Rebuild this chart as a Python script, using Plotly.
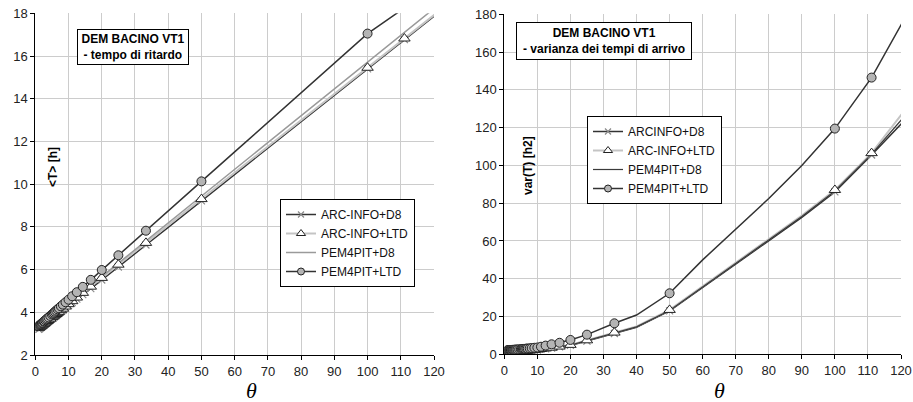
import plotly.graph_objects as go

# ---------------- data ----------------
theta = [1.0, 1.2, 1.4, 1.6, 1.8, 2.0, 2.2, 2.5, 2.7, 3.0, 3.3, 3.6, 4.0, 4.5, 5.0, 5.3, 5.6, 5.9,
         6.3, 6.7, 7.1, 7.7, 8.3, 9.1, 10, 11.1, 12.5, 14.3, 16.7, 20, 25, 33.3, 40, 50, 60, 70,
         80, 90, 100, 111.1, 125]
theta_unmarked = [40, 60, 70, 80, 90, 125]

series_names = ["ARC-INFO+D8", "ARC-INFO+LTD", "PEM4PIT+D8", "PEM4PIT+LTD"]
series_names_right = ["ARCINFO+D8", "ARC-INFO+LTD", "PEM4PIT+D8", "PEM4PIT+LTD"]

# left chart: <T> [h]
T_arc_d8 = [3.20, 3.23, 3.25, 3.28, 3.30, 3.33, 3.35, 3.39, 3.41, 3.45, 3.49, 3.52, 3.57, 3.63, 3.70,
            3.73, 3.77, 3.81, 3.85, 3.90, 3.95, 4.03, 4.10, 4.20, 4.31, 4.45, 4.62, 4.83, 5.11, 5.51,
            6.12, 7.15, 7.98, 9.22, 10.46, 11.70, 12.93, 14.16, 15.40, 16.77, 18.48]
T_arc_ltd = [3.27, 3.30, 3.32, 3.35, 3.37, 3.40, 3.42, 3.46, 3.48, 3.52, 3.56, 3.59, 3.64, 3.70, 3.77,
             3.80, 3.84, 3.88, 3.92, 3.97, 4.02, 4.10, 4.17, 4.27, 4.38, 4.52, 4.69, 4.91, 5.20, 5.61,
             6.23, 7.25, 8.07, 9.30, 10.53, 11.76, 12.99, 14.22, 15.45, 16.82, 18.53]
T_pem_d8 = [3.29, 3.32, 3.34, 3.37, 3.39, 3.42, 3.44, 3.48, 3.50, 3.54, 3.58, 3.61, 3.66, 3.72, 3.79,
            3.82, 3.86, 3.90, 3.94, 3.99, 4.04, 4.12, 4.19, 4.29, 4.41, 4.55, 4.72, 4.95, 5.25, 5.67,
            6.30, 7.34, 8.18, 9.43, 10.70, 11.96, 13.22, 14.48, 15.70, 17.10, 18.85]
T_pem_ltd = [3.35, 3.38, 3.40, 3.43, 3.46, 3.49, 3.51, 3.56, 3.58, 3.63, 3.67, 3.71, 3.76, 3.83, 3.90,
             3.94, 3.98, 4.03, 4.08, 4.14, 4.19, 4.28, 4.36, 4.47, 4.59, 4.75, 4.94, 5.19, 5.52, 5.98,
             6.67, 7.82, 8.75, 10.13, 11.51, 12.90, 14.28, 15.67, 17.05, 18.25, 19.75]

# right chart: var(T) [h2]
V_arc_d8 = [1.0, 1.0, 1.05, 1.05, 1.1, 1.1, 1.15, 1.2, 1.2, 1.25, 1.3, 1.35, 1.4, 1.45, 1.5, 1.55, 1.6,
            1.65, 1.7, 1.75, 1.8, 1.9, 2.0, 2.15, 2.3, 2.6, 2.9, 3.3, 3.9, 4.7, 7.0, 11.0, 14.3, 23.0,
            35.3, 47.8, 60.2, 72.5, 86, 105.5, 131]
V_arc_ltd = [1.2, 1.2, 1.25, 1.25, 1.3, 1.3, 1.35, 1.4, 1.4, 1.45, 1.5, 1.55, 1.6, 1.65, 1.7, 1.75, 1.8,
             1.85, 1.9, 1.95, 2.0, 2.1, 2.2, 2.35, 2.5, 2.8, 3.1, 3.5, 4.1, 5.0, 7.4, 11.5, 14.8, 23.5,
             36, 48.5, 61, 73.5, 87, 106.5, 138]
V_pem_d8 = [1.1, 1.1, 1.15, 1.15, 1.2, 1.2, 1.25, 1.3, 1.3, 1.35, 1.4, 1.45, 1.5, 1.55, 1.6, 1.65, 1.7,
            1.75, 1.8, 1.85, 1.9, 2.0, 2.1, 2.25, 2.4, 2.7, 3.0, 3.4, 4.0, 4.85, 7.2, 11.2, 14.5, 23.2,
            35.6, 48.1, 60.5, 73.0, 86.5, 106, 134]
V_pem_ltd = [2.2, 2.2, 2.2, 2.25, 2.25, 2.3, 2.3, 2.35, 2.35, 2.4, 2.45, 2.5, 2.55, 2.6, 2.7, 2.75, 2.8,
             2.85, 2.9, 3.0, 3.05, 3.15, 3.3, 3.45, 3.6, 4.0, 4.6, 5.3, 6.1, 7.6, 10.4, 16.4, 20.8, 32.3,
             50, 66, 82.5, 100, 119.5, 146.5, 190]

left_ticks_y = [2, 4, 6, 8, 10, 12, 14, 16, 18]
right_ticks_y = [0, 20, 40, 60, 80, 100, 120, 140, 160, 180]
ticks_x = [0, 10, 20, 30, 40, 50, 60, 70, 80, 90, 100, 110, 120]

# ---------------- styles ----------------
FONT = "Arial, Liberation Sans, sans-serif"
DARK = "#333333"
LIGHT = "#c4c4c4"


def mk_styles(pem_d8_color, pem_d8_width):
    return [
        dict(line=dict(color=DARK, width=1.5),
             marker=dict(symbol="x-thin-open", size=7, color="#8a8a8a", line=dict(width=1.2, color="#8a8a8a")),
             lmarker=dict(symbol="x-thin-open", size=6, color="#8a8a8a", line=dict(width=1.2, color="#8a8a8a"))),
        dict(line=dict(color=LIGHT, width=2),
             marker=dict(symbol="triangle-up", size=10, color="white", line=dict(width=1, color="#222222")),
             lmarker=dict(symbol="triangle-up", size=8, color="white", line=dict(width=1, color="#222222"))),
        dict(line=dict(color=pem_d8_color, width=pem_d8_width), marker=None, lmarker=None),
        dict(line=dict(color=DARK, width=1.5),
             marker=dict(symbol="circle", size=9, color="#b4b4b4", line=dict(width=1, color="#222222")),
             lmarker=dict(symbol="circle", size=7, color="#b4b4b4", line=dict(width=1, color="#222222"))),
    ]


styles_left = mk_styles("#9a9a9a", 1.5)
styles_right = mk_styles("#3a3a3a", 1.2)

fig = go.Figure()


def add_panel(values_list, names, styles, xa, ya, legend):
    # lines first
    for vals, st in zip(values_list, styles):
        fig.add_trace(go.Scatter(x=theta, y=vals, mode="lines", line=st["line"], showlegend=False,
                                 xaxis=xa, yaxis=ya, hoverinfo="skip"))
    # markers
    for i in [0, 2, 1, 3]:
        st = styles[i]
        if st["marker"] is None:
            continue
        vals = values_list[i]
        mx = [t for t in theta if t not in theta_unmarked]
        my = [v for t, v in zip(theta, vals) if t not in theta_unmarked]
        fig.add_trace(go.Scatter(x=mx, y=my, mode="markers", marker=st["marker"], showlegend=False,
                                 xaxis=xa, yaxis=ya))
    # legend-only entries
    for name, st in zip(names, styles):
        mode = "lines" if st["lmarker"] is None else "lines+markers"
        kw = dict(marker=st["lmarker"]) if st["lmarker"] is not None else {}
        fig.add_trace(go.Scatter(x=[None], y=[None], mode=mode, name=name, line=st["line"],
                                 legend=legend, xaxis=xa, yaxis=ya, **kw))


add_panel([T_arc_d8, T_arc_ltd, T_pem_d8, T_pem_ltd], series_names, styles_left, "x", "y", "legend")
add_panel([V_arc_d8, V_arc_ltd, V_pem_d8, V_pem_ltd], series_names_right, styles_right, "x2", "y2", "legend2")

W, H = 913, 402
axis_common = dict(showline=True, linecolor="black", linewidth=1, ticks="outside", ticklen=4,
                   tickcolor="black", showgrid=True, gridcolor="#cccccc", gridwidth=1, zeroline=False,
                   tickfont=dict(family=FONT, size=13, color="#222222"), mirror=False, automargin=False)

legend_common = dict(xanchor="left", yanchor="top", bgcolor="white", bordercolor="black", borderwidth=1,
                     font=dict(family=FONT, size=12, color="#111111"), itemwidth=30, tracegroupgap=0)

fig.update_layout(
    width=W, height=H,
    margin=dict(l=0, r=0, t=0, b=0, autoexpand=False),
    paper_bgcolor="white", plot_bgcolor="white",
    font=dict(family=FONT, size=12, color="#111111"),
    xaxis=dict(domain=[35.3 / W, 434 / W], range=[0, 120], tickvals=ticks_x, anchor="y", **axis_common),
    yaxis=dict(domain=[1 - 355 / H, 1 - 13.3 / H], range=[2, 18], tickvals=left_ticks_y, anchor="x",
               **axis_common),
    xaxis2=dict(domain=[504.3 / W, 901 / W], range=[0, 120], tickvals=ticks_x, anchor="y2", **axis_common),
    yaxis2=dict(domain=[1 - 354.3 / H, 1 - 14.3 / H], range=[0, 180], tickvals=right_ticks_y, anchor="x2",
                **axis_common),
    legend=dict(x=280 / W, y=1 - 199 / H, **legend_common),
    legend2=dict(x=587 / W, y=1 - 116 / H, **legend_common),
)

# title boxes
fig.add_annotation(x=133 / W, y=1 - 47.5 / H, xref="paper", yref="paper", xanchor="center", yanchor="middle",
                   showarrow=False, text="<b>DEM BACINO VT1<br>- tempo di ritardo</b>", align="center",
                   font=dict(family=FONT, size=12, color="black"), bgcolor="white",
                   bordercolor="black", borderwidth=1, borderpad=2, width=106)
fig.add_annotation(x=604 / W, y=1 - 41 / H, xref="paper", yref="paper", xanchor="center", yanchor="middle",
                   showarrow=False, text="<b>DEM BACINO VT1<br>- varianza dei tempi di arrivo</b>",
                   align="center", font=dict(family=FONT, size=12, color="black"), bgcolor="white",
                   bordercolor="black", borderwidth=1, borderpad=3, width=168)

# y-axis titles inside plot areas
fig.add_annotation(x=53 / W, y=1 - 167 / H, xref="paper", yref="paper", xanchor="center", yanchor="middle",
                   showarrow=False, text="<b>&lt;T&gt; [h]</b>", textangle=-90,
                   font=dict(family=FONT, size=12, color="black"))
fig.add_annotation(x=528 / W, y=1 - 166 / H, xref="paper", yref="paper", xanchor="center", yanchor="middle",
                   showarrow=False, text="<b>var(T) [h2]</b>", textangle=-90,
                   font=dict(family=FONT, size=12, color="black"))

# x-axis titles
for xr in ["x", "x2"]:
    fig.add_annotation(x=65, y=1 - 390 / H, xref=xr, yref="paper", xanchor="center", yanchor="middle",
                       showarrow=False, text="<i>θ</i>",
                       font=dict(family="Liberation Serif, Times New Roman, serif", size=22, color="black"))

fig.write_html("out.html", config={"displayModeBar": False},
               post_script="document.body.style.margin='0';document.body.style.overflow='hidden';")
